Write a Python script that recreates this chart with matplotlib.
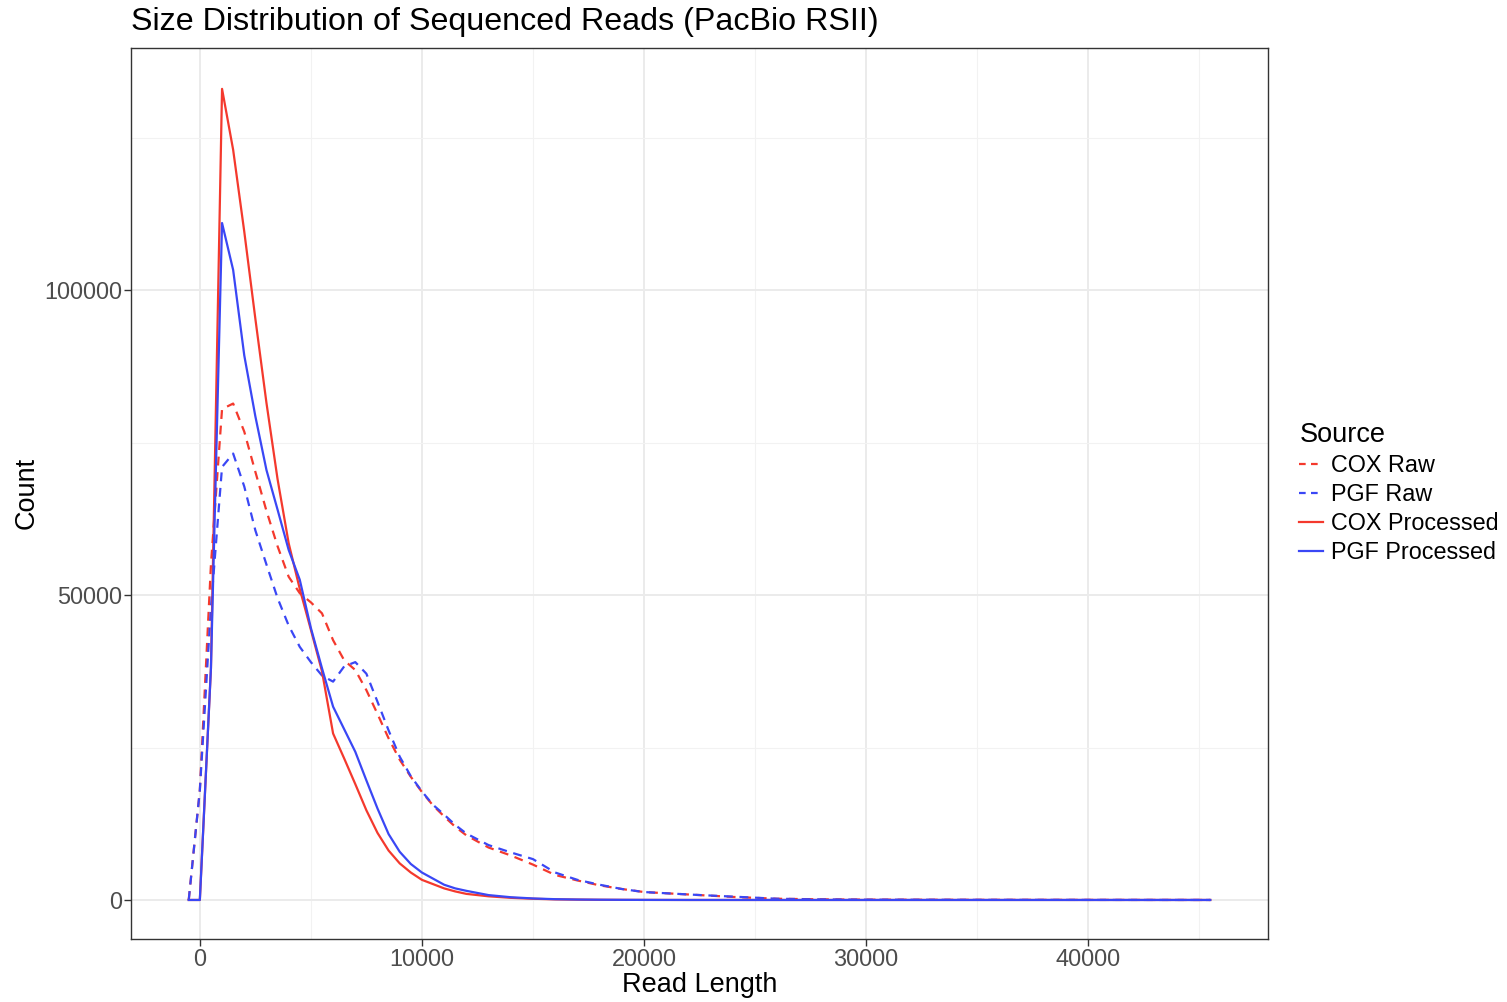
import matplotlib
matplotlib.use("Agg")
import matplotlib.pyplot as plt
from matplotlib.lines import Line2D

plt.rcParams['font.family'] = ['Liberation Sans', 'DejaVu Sans']

read_length = [-500, 0, 500, 1000, 1500, 2000, 2500, 3000, 3500, 4000, 4500, 5000,
               5500, 6000, 6500, 7000, 7500, 8000, 8500, 9000, 9500, 10000, 10500,
               11000, 11500, 12000, 13000, 14000, 15000, 16000, 17000, 18000, 19000,
               20000, 22000, 24000, 26000, 28000, 30000, 35000, 40000, 45500]

cox_raw = [0, 18000, 55000, 80500, 81400, 76800, 70200, 63800, 58000, 53000, 50300, 48800,
           47000, 42600, 39300, 37700, 34400, 30500, 26500, 23000, 20200, 17700, 15500,
           13700, 12000, 10600, 8600, 7300, 5800, 4100, 3200, 2400, 1800,
           1300, 900, 500, 200, 100, 50, 20, 10, 0]

pgf_raw = [0, 18000, 48000, 71000, 73200, 67800, 60600, 55000, 49500, 45000, 41500, 39000,
           36800, 35800, 38300, 39000, 37100, 32500, 27800, 23500, 20300, 17800, 15600,
           14000, 12300, 10900, 9000, 7800, 6700, 4500, 3300, 2500, 1800,
           1300, 900, 550, 200, 100, 50, 20, 10, 0]

cox_processed = [0, 0, 38000, 133000, 123000, 109600, 95300, 81500, 69000, 58500, 51000, 44300,
                 37500, 27300, 23200, 19000, 14700, 11000, 8100, 6000, 4500, 3300, 2600,
                 1900, 1400, 1000, 600, 350, 200, 100, 60, 30, 20,
                 10, 0, 0, 0, 0, 0, 0, 0, 0]

pgf_processed = [0, 0, 38000, 111000, 103300, 89300, 79300, 70500, 64000, 57400, 52500, 44600,
                 38000, 31700, 28000, 24300, 19600, 15000, 10800, 7900, 5900, 4500, 3500,
                 2500, 1900, 1500, 800, 450, 250, 130, 70, 40, 20,
                 10, 0, 0, 0, 0, 0, 0, 0, 0]

series_names = ["COX Raw", "PGF Raw", "COX Processed", "PGF Processed"]
series_values = [cox_raw, pgf_raw, cox_processed, pgf_processed]

RED = '#F4392D'
BLUE = '#3A47F5'
colors = [RED, BLUE, RED, BLUE]
dashed = [True, True, False, False]

fig = plt.figure(figsize=(15.07, 10.02), dpi=100)
ax = fig.add_axes([131/1507, 1-939/1002, (1268-131)/1507, (939-48)/1002])

handles = []
for name, vals, c, d in zip(series_names, series_values, colors, dashed):
    ax.plot(read_length, vals, color=c, lw=1.6,
            linestyle=(0, (4, 3)) if d else '-', label=name, zorder=3)
    handles.append(Line2D([0], [0], color=c, lw=1.6,
                          linestyle=(0, (3, 2.4)) if d else '-'))

ax.set_xticks([0, 10000, 20000, 30000, 40000])
ax.set_xticks([-5000, 5000, 15000, 25000, 35000, 45000], minor=True)
ax.set_yticks([0, 50000, 100000])
ax.set_yticks([25000, 75000, 125000], minor=True)
ax.set_xlim(-3100, 48100)
ax.set_ylim(-6400, 139700)
ax.grid(True, which='major', color='#EBEBEB', lw=1.4, zorder=0)
ax.grid(True, which='minor', color='#F2F2F2', lw=0.8, zorder=0)
ax.set_axisbelow(True)
for s in ax.spines.values():
    s.set_color('#333333')
    s.set_linewidth(1.0)
ax.tick_params(which='major', length=5, width=1, color='#333333',
               labelsize=16.9, labelcolor='#4D4D4D', pad=1.5)
ax.tick_params(which='minor', length=0)

fig.text(700/1507, 1-985/1002, "Read Length", fontsize=19.5, ha='center', va='center')
fig.text(27/1507, 1-493/1002, "Count", fontsize=19.5, ha='center', va='center',
         rotation=90)
fig.text(131/1507, 1-22/1002, "Size Distribution of Sequenced Reads (PacBio RSII)",
         fontsize=23.2, ha='left', va='center')

leg = fig.legend(handles, series_names, title="Source", loc='center left',
                 bbox_to_anchor=(1290/1507, 1-493/1002), frameon=False,
                 fontsize=16.8, title_fontsize=19.5, handlelength=1.0,
                 handletextpad=0.35, labelspacing=0.25, borderaxespad=0)
leg._legend_box.align = "left"

fig.savefig("out.png", dpi=100)
